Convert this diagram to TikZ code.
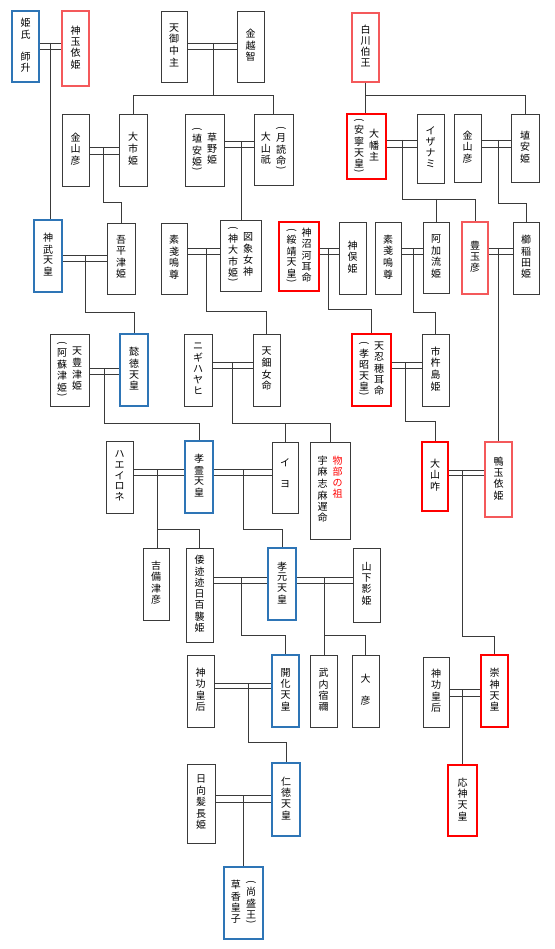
\documentclass[tikz,border=0pt]{standalone}
\usepackage{graphicx}
\usepackage{fontspec}
\newfontfamily\jp{Noto Sans CJK JP}
\definecolor{bluC}{HTML}{2E75B6}
\definecolor{redC}{HTML}{FF0000}
\definecolor{lredC}{HTML}{F4595B}
\definecolor{lnC}{HTML}{3A3A3A}
\newcommand{\jop}{\rotatebox[origin=c]{-90}{(}}
\newcommand{\jcp}{\rotatebox[origin=c]{-90}{)}}
\newcommand{\jcol}[1]{\begin{tabular}[c]{@{}c@{}}#1\end{tabular}}
\newcommand{\jtopc}[1]{\begin{tabular}[t]{@{}c@{}}#1\end{tabular}}
\newcommand{\jpar}[1]{\begin{tabular}[c]{@{}c@{}}\jop\\[-1pt]#1\\[-4pt]\jcp\end{tabular}}
\newcommand{\gbox}[7]{%
  \pgfmathsetmacro\gbcx{(#2+#4)/2}%
  \pgfmathsetmacro\gbcy{(#3+#5)/2}%
  \pgfmathsetmacro\gbw{#4-#2}%
  \pgfmathsetmacro\gbh{#5-#3}%
  \node[#6, minimum width=\gbw pt, minimum height=\gbh pt] (#1) at (\gbcx,\gbcy) {#7};}
\newcommand{\marr}[6]{%
  \draw[ln] (#1.east|-0,#3) -- (#2.west|-0,#3);
  \draw[ln] (#1.east|-0,#4) -- (#2.west|-0,#4);
  \coordinate (#6) at (#5,#3);}
\begin{document}
\begin{tikzpicture}[x=1pt,y=-1pt,
  font=\jp\fontsize{10}{10.6}\selectfont,
  bk/.style={draw=lnC, line width=0.9pt, fill=white, inner sep=0pt, text=black},
  bl/.style={bk, draw=bluC, line width=1.8pt},
  rd/.style={bk, draw=redC, line width=2pt},
  lr/.style={bk, draw=lredC, line width=1.2pt},
  ln/.style={draw=lnC, line width=0.9pt}]
\useasboundingbox (0,0) rectangle (554,949);
% boxes
\gbox{shishi}{12}{11}{39}{82}{bl}{\jcol{姫\\氏\\ \\師\\升}}
\gbox{tamayoriA}{62}{11}{89}{86}{lr}{\jcol{神\\玉\\依\\姫}}
\gbox{amenominaka}{161}{11}{187}{82}{bk}{\jcol{天\\御\\中\\主}}
\gbox{kanakoshi}{237}{11}{264}{82}{bk}{\jcol{金\\越\\智}}
\gbox{shirakawa}{352}{13}{379}{82}{lr}{\jcol{白\\川\\伯\\王}}
\gbox{kanayamaA}{62}{114}{89}{186}{bk}{\jcol{金\\山\\彦}}
\gbox{oichi}{119}{114}{147}{186}{bk}{\jcol{大\\市\\姫}}
\gbox{kayano}{185}{114}{224}{186}{bk}{\jpar{埴\\安\\姫}\hspace{5pt}\jcol{草\\野\\姫}}
\gbox{oyamatsumi}{254}{114}{293}{185}{bk}{\jcol{大\\山\\祇}\hspace{5pt}\jpar{月\\読\\命}}
\gbox{ohata}{347}{114}{386}{179}{rd}{\jpar{安\\寧\\天\\皇}\hspace{5pt}\jcol{大\\幡\\主}}
\gbox{izanami}{417}{114}{444}{183}{bk}{\jcol{イ\\ザ\\ナ\\ミ}}
\gbox{kanayamaB}{454}{114}{481}{182}{bk}{\jcol{金\\山\\彦}}
\gbox{haniyasu}{511}{114}{539}{182}{bk}{\jcol{埴\\安\\姫}}
\gbox{jimmu}{34}{220}{62}{292}{bl}{\jcol{神\\武\\天\\皇}}
\gbox{ahira}{107}{223}{135}{294}{bk}{\jcol{吾\\平\\津\\姫}}
\gbox{susanooA}{161}{223}{187}{294}{bk}{\jcol{素\\戔\\嗚\\尊}}
\gbox{zusho}{220}{220}{261}{291}{bk}{\jpar{神\\大\\市\\姫}\hspace{5pt}\jcol{図\\象\\女\\神}}
\gbox{kamununa}{279}{222}{319}{291}{rd}{\jpar{綏\\靖\\天\\皇}\hspace{5pt}\jcol{神\\沼\\河\\耳\\命}}
\gbox{kamumata}{339}{222}{366}{294}{bk}{\jcol{神\\俣\\姫}}
\gbox{susanooB}{375}{222}{401}{294}{bk}{\jcol{素\\戔\\嗚\\尊}}
\gbox{akaru}{423}{222}{449}{293}{bk}{\jcol{阿\\加\\流\\姫}}
\gbox{toyotama}{462}{222}{488}{294}{lr}{\jcol{豊\\玉\\彦}}
\gbox{kushinada}{513}{222}{539}{294}{bk}{\jcol{櫛\\稲\\田\\姫}}
\gbox{toyotsu}{50}{334}{89}{406}{bk}{\jpar{阿\\蘇\\津\\姫}\hspace{5pt}\jcol{天\\豊\\津\\姫}}
\gbox{itoku}{120}{334}{148}{406}{bl}{\jcol{懿\\徳\\天\\皇}}
\gbox{nigihayahi}{184}{334}{212}{406}{bk}{\jcol{ニ\\ギ\\ハ\\ヤ\\ヒ}}
\gbox{uzume}{253}{334}{280}{406}{bk}{\jcol{天\\鈿\\女\\命}}
\gbox{oshiho}{352}{334}{391}{406}{rd}{\jpar{孝\\昭\\天\\皇}\hspace{5pt}\jcol{天\\忍\\穂\\耳\\命}}
\gbox{ichiki}{422}{334}{449}{406}{bk}{\jcol{市\\杵\\島\\姫}}
\gbox{haeirone}{106}{441}{133}{513}{bk}{\jcol{ハ\\エ\\イ\\ロ\\ネ}}
\gbox{korei}{185}{441}{213}{513}{bl}{\jcol{孝\\霊\\天\\皇}}
\gbox{iyo}{272}{442}{298}{513}{bk}{\jcol{イ\\ \\ヨ\\[5pt]}}
\gbox{mononobe}{310}{442}{350}{539}{bk}{\jtopc{宇\\麻\\志\\麻\\遅\\命}\hspace{5pt}\textcolor{redC}{\jtopc{物\\部\\の\\祖}}}
\gbox{oyamakui}{422}{442}{448}{511}{rd}{\jcol{大\\山\\咋}}
\gbox{kamotamayori}{485}{442}{512}{517}{lr}{\jcol{鴨\\玉\\依\\姫}}
\gbox{kibitsu}{143}{548}{169}{620}{bk}{\jcol{吉\\備\\津\\彦}}
\gbox{momoso}{186}{548}{213}{642}{bk}{\jcol{倭\\迹\\迹\\日\\百\\襲\\姫}}
\gbox{kogen}{268}{548}{296}{620}{bl}{\jcol{孝\\元\\天\\皇}}
\gbox{yamashita}{353}{548}{380}{622}{bk}{\jcol{山\\下\\影\\姫}}
\gbox{jinguA}{187}{655}{214}{727}{bk}{\jcol{神\\功\\皇\\后}}
\gbox{kaika}{272}{655}{299}{727}{bl}{\jcol{開\\化\\天\\皇}}
\gbox{takeuchi}{310}{655}{337}{727}{bk}{\jcol{武\\内\\宿\\禰}}
\gbox{ohiko}{352}{655}{379}{727}{bk}{\jcol{大\\ \\彦}}
\gbox{jinguB}{423}{657}{449}{727}{bk}{\jcol{神\\功\\皇\\后}}
\gbox{sujin}{481}{655}{508}{727}{rd}{\jcol{崇\\神\\天\\皇}}
\gbox{hinata}{187}{764}{215}{843}{bk}{\jcol{日\\向\\髪\\長\\姫}}
\gbox{nintoku}{272}{763}{300}{836}{bl}{\jcol{仁\\徳\\天\\皇}}
\gbox{kusaka}{224}{867}{263}{939}{bl}{\jcol{草\\香\\皇\\子}\hspace{5pt}\jpar{尚\\盛\\王}}
\gbox{ojin}{448}{765}{477}{836}{rd}{\jcol{応\\神\\天\\皇}}
% connectors
\marr{shishi}{tamayoriA}{43}{49}{50}{dA}
\draw[ln] (dA) -- (dA|-jimmu.north);
\marr{amenominaka}{kanakoshi}{43}{49}{213}{dB}
\draw[ln] (dB) -- (dB|-0,95);
\draw[ln] (oichi.north) -- (oichi.north|-0,95) -- (oyamatsumi.north|-0,95) -- (oyamatsumi.north);
\draw[ln] (shirakawa.south) -- (shirakawa.south|-ohata.north);
\draw[ln] (shirakawa.south|-0,95) -- (haniyasu.north|-0,95) -- (haniyasu.north);
\marr{kanayamaA}{oichi}{147}{154}{103}{dC}
\draw[ln] (dC) |- (ahira.north|-0,202) -- (ahira.north);
\marr{kayano}{oyamatsumi}{141}{147}{241}{dD}
\draw[ln] (dD) -- (dD|-zusho.north);
\marr{ohata}{izanami}{140}{147}{402}{dE}
\draw[ln] (dE) |- (toyotama.north|-0,199) -- (toyotama.north);
\draw[ln] (akaru.north|-0,199) -- (akaru.north);
\marr{kanayamaB}{haniyasu}{140}{147}{498}{dF}
\draw[ln] (dF) |- (kushinada.north|-0,203) -- (kushinada.north);
\marr{jimmu}{ahira}{255}{261}{85}{dG}
\draw[ln] (dG) |- (itoku.north|-0,312) -- (itoku.north);
\marr{susanooA}{zusho}{248}{254}{206}{dH}
\draw[ln] (dH) |- (uzume.north|-0,311) -- (uzume.north);
\marr{kamununa}{kamumata}{248}{254}{328}{dI}
\draw[ln] (dI) |- (oshiho.north|-0,309) -- (oshiho.north);
\marr{susanooB}{akaru}{248}{254}{413}{dJ}
\draw[ln] (dJ) |- (ichiki.north|-0,312) -- (ichiki.north);
\marr{toyotama}{kushinada}{248}{254}{498}{dK}
\draw[ln] (dK) -- (dK|-kamotamayori.north);
\marr{toyotsu}{itoku}{368}{374}{104}{dL}
\draw[ln] (dL) |- (korei.north|-0,423) -- (korei.north);
\marr{nigihayahi}{uzume}{362}{368}{232}{dM}
\draw[ln] (dM) |- (mononobe.north|-0,423) -- (mononobe.north);
\draw[ln] (iyo.north|-0,423) -- (iyo.north);
\marr{oshiho}{ichiki}{362}{368}{405}{dN}
\draw[ln] (dN) |- (oyamakui.north|-0,421) -- (oyamakui.north);
\marr{haeirone}{korei}{469}{475}{157}{dO}
\draw[ln] (dO) |- (momoso.north|-0,529) -- (momoso.north);
\draw[ln] (dO|-0,529) -- (dO|-kibitsu.north);
\marr{korei}{iyo}{469}{475}{243}{dP}
\draw[ln] (dP) |- (kogen.north|-0,529) -- (kogen.north);
\marr{oyamakui}{kamotamayori}{470}{475}{462}{dQ}
\draw[ln] (dQ) |- (sujin.north|-0,636) -- (sujin.north);
\marr{momoso}{kogen}{577}{583}{241}{dR}
\draw[ln] (dR) |- (kaika.north|-0,635) -- (kaika.north);
\marr{kogen}{yamashita}{577}{583}{324}{dS}
\draw[ln] (dS) -- (dS|-takeuchi.north);
\draw[ln] (dS|-0,635) -| (ohiko.north);
\marr{jinguA}{kaika}{683}{688}{248}{dT}
\draw[ln] (dT) |- (nintoku.north|-0,742) -- (nintoku.north);
\marr{jinguB}{sujin}{689}{696}{462}{dU}
\draw[ln] (dU) -- (dU|-ojin.north);
\marr{hinata}{nintoku}{795}{802}{243}{dV}
\draw[ln] (dV) -- (dV|-kusaka.north);
\end{tikzpicture}
\end{document}
